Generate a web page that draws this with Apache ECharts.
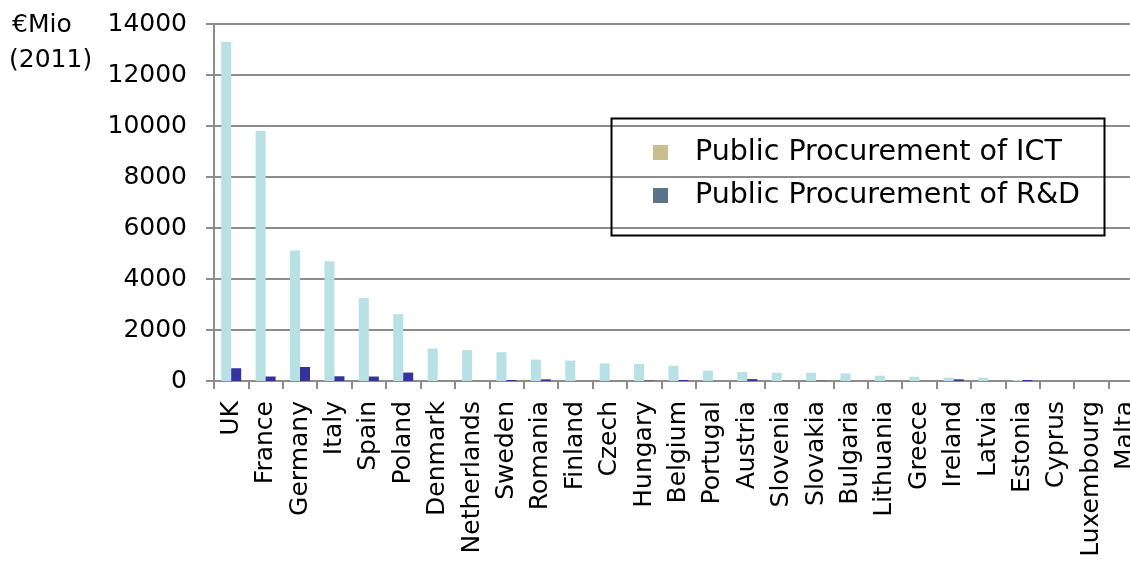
<!DOCTYPE html>
<html>
<head>
<meta charset="utf-8">
<script src="https://cdn.jsdelivr.net/npm/echarts@6/dist/echarts.min.js"></script>
<style>
html,body{margin:0;padding:0;background:#fff;overflow:hidden;}
#c{width:1130px;height:562px;}
</style>
</head>
<body>
<div id="c"></div>
<script>
const countries = ['UK','France','Germany','Italy','Spain','Poland','Denmark','Netherlands','Sweden','Romania','Finland','Czech','Hungary','Belgium','Portugal','Austria','Slovenia','Slovakia','Bulgaria','Lithuania','Greece','Ireland','Latvia','Estonia','Cyprus','Luxembourg','Malta'];
const ictValues = [13300, 9800, 5120, 4700, 3250, 2620, 1270, 1210, 1130, 840, 800, 690, 665, 600, 405, 350, 325, 325, 297, 207, 168, 130, 130, 40, 0, 0, 0];
const rdValues = [500, 175, 550, 185, 175, 330, 0, 0, 40, 65, 0, 0, 15, 40, 0, 75, 0, 10, 0, 0, 0, 65, 0, 40, 0, 0, 0];
const yTicks = [0, 2000, 4000, 6000, 8000, 10000, 12000, 14000];
const seriesNames = ['Public Procurement of ICT', 'Public Procurement of R&D'];

const FONT = 'DejaVu Sans';
const chart = echarts.init(document.getElementById('c'), null, {renderer: 'canvas'});
chart.setOption({
  animation: false,
  backgroundColor: '#ffffff',
  grid: {left: 214, right: -13, top: 24, bottom: 181, containLabel: false, outerBoundsMode: 'none'},
  legend: {
    orient: 'vertical',
    left: 648,
    top: 133,
    itemWidth: 15,
    itemHeight: 15,
    itemGap: 14,
    icon: 'rect',
    selectedMode: false,
    textStyle: {fontFamily: FONT, fontSize: 28.5, color: '#000', padding: [0, 0, 0, 22]},
    data: [
      {name: seriesNames[0], itemStyle: {color: '#c9bf8c'}},
      {name: seriesNames[1], itemStyle: {color: '#5a7387'}}
    ]
  },
  graphic: [
    {type: 'rect', left: 609, top: 116, shape: {width: 493, height: 117},
     style: {fill: 'none', stroke: '#000', lineWidth: 2}, z: 10},
    {type: 'text', left: 12, top: 13, style: {text: '€Mio', font: '25px "DejaVu Sans"', fill: '#000'}},
    {type: 'text', left: 9, top: 48, style: {text: '(2011)', font: '25px "DejaVu Sans"', fill: '#000'}}
  ],
  xAxis: {
    type: 'category',
    data: countries,
    axisLine: {show: true, lineStyle: {color: '#8c8c8c', width: 2}},
    axisTick: {show: true, length: 8, alignWithLabel: false, lineStyle: {color: '#8c8c8c', width: 2}},
    axisLabel: {rotate: 90, interval: 0, margin: 20, fontFamily: FONT, fontSize: 25, color: '#000'}
  },
  yAxis: {
    type: 'value',
    min: yTicks[0],
    max: yTicks[yTicks.length - 1],
    interval: 2000,
    axisLine: {show: true, lineStyle: {color: '#8c8c8c', width: 2}},
    axisTick: {show: true, length: 8, lineStyle: {color: '#8c8c8c', width: 2}},
    splitLine: {show: true, lineStyle: {color: '#8c8c8c', width: 2}},
    axisLabel: {margin: 27, fontFamily: FONT, fontSize: 25, color: '#000', formatter: v => String(v)}
  },
  series: [
    {name: seriesNames[0], type: 'bar', data: ictValues, barWidth: 10, barGap: '0%',
     itemStyle: {color: '#b7e1e4'}},
    {name: seriesNames[1], type: 'bar', data: rdValues, barWidth: 10, barGap: '0%',
     itemStyle: {color: '#333399'}}
  ]
});
</script>
</body>
</html>
